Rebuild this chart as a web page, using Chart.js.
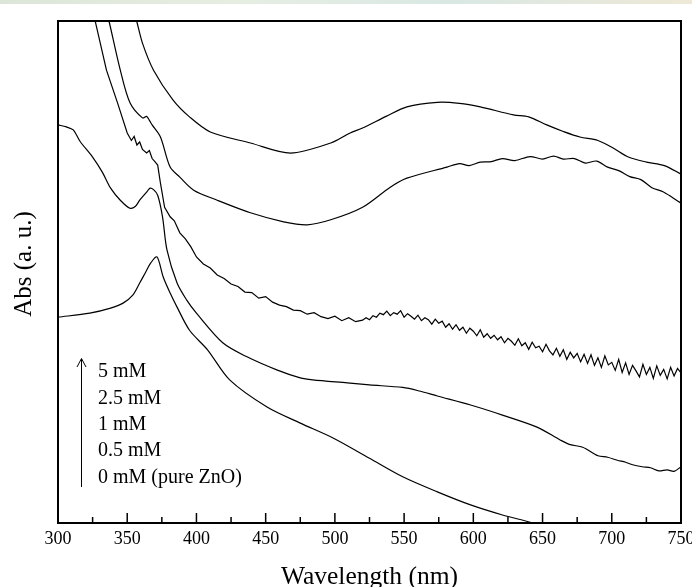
<!DOCTYPE html>
<html>
<head>
<meta charset="utf-8">
<title>Abs vs Wavelength</title>
<script src="https://cdn.jsdelivr.net/npm/chart.js@4.4.1/dist/chart.umd.min.js"></script>
<style>
    html, body { margin: 0; padding: 0; background: #fff; }
    #wrap { position: relative; width: 692px; height: 587px; }
    #strip {
        position: absolute; left: 0; top: 0; width: 692px; height: 4px;
        background: linear-gradient(90deg, #dce6d8, #e6eee2 35%, #d9e8e4 65%, #eee8d6);
    }
</style>
</head>
<body>
<div id="wrap">
    <canvas id="spectra"></canvas>
    <div id="strip"></div>
</div>
<script>
// legend text, top (highest concentration) to bottom
const concLabels = ['5 mM', '2.5 mM', '1 mM', '0.5 mM', '0 mM (pure ZnO)'];

// x axis
const xMin = 300;
const xMax = 750;
const xStep = 50;

// 5 mM
const wl5 = [354, 357, 361, 369, 383, 395, 410, 439, 468, 497, 511, 520, 537, 552, 574, 590, 605, 629, 640, 653, 665, 677, 690, 701, 712, 725, 738, 750];
const abs5 = [103, 99.8, 95.6, 90.2, 84.3, 80.9, 77.9, 75.7, 73.7, 75.7, 77.7, 78.7, 81.0, 82.9, 83.8, 83.6, 82.9, 81.3, 80.9, 79.3, 78.0, 76.9, 76.2, 74.7, 72.9, 71.9, 71.2, 69.5];

// 2.5 mM
const wl25 = [334, 337, 345, 352, 361, 364, 366, 368, 374, 381, 388, 398, 415, 439, 463, 480, 497, 520, 540, 552, 581, 590, 597, 605, 613, 621, 630, 641, 650, 658, 665, 673, 681, 689, 697, 705, 713, 721, 729, 737, 744, 750];
const abs25 = [103, 99.8, 90.2, 83.7, 80.7, 81.0, 80.2, 79.3, 76.9, 70.9, 68.9, 66.3, 64.3, 61.8, 60.0, 59.4, 60.4, 62.9, 66.9, 68.7, 70.9, 71.6, 71.2, 71.9, 72.0, 72.6, 72.2, 73.0, 72.5, 73.1, 72.5, 72.6, 71.7, 72.1, 70.9, 70.2, 69.0, 68.4, 66.8, 66.0, 64.8, 63.7];

// 1 mM (noisy trace)
const wl1 = [325, 327, 335, 343, 350, 353, 355, 357, 359, 361, 364, 366, 368, 370, 372, 374, 377, 381, 384, 388, 392, 396, 400,
    405, 410, 415, 420, 425, 430, 435, 440, 445, 450, 455, 460, 465, 470, 475, 480, 485, 490, 495, 500, 505, 510, 515, 520,
    522.5, 525, 527.5, 530, 532.5, 535, 537.5, 540, 542.5, 545, 547.5, 550, 552.5, 555, 557.5, 560, 562.5, 565, 567.5, 570,
    572.5, 575, 577.5, 580, 582.5, 585, 587.5, 590, 592.5, 595, 597.5, 600, 602.5, 605, 607.5, 610, 612.5, 615, 617.5, 620,
    622.5, 625, 627.5, 630, 632.5, 635, 637.5, 640, 642.5, 645, 647.5, 650, 652.5, 655, 657.5, 660, 662.5, 665, 667.5, 670,
    672.5, 675, 677.5, 680, 682.5, 685, 687.5, 690, 692.5, 695, 697.5, 700, 702.5, 705, 707.5, 710, 712.5, 715, 717.5, 720,
    722.5, 725, 727.5, 730, 732.5, 735, 737.5, 740, 742.5, 745, 747.5, 750];
const abs1 = [103, 99.8, 90.2, 83.7, 77.7, 76.2, 77.0, 75.3, 75.9, 74.4, 73.7, 74.2, 72.6, 72.0, 71.3, 67.7, 62.9, 61.0, 60.2, 57.8, 56.6, 55.0, 53.0,
    51.6, 50.8, 49.4, 48.7, 47.6, 47.1, 46.0, 45.9, 44.8, 45.1, 44.0, 43.4, 43.1, 42.4, 42.3, 41.6, 41.9, 41.1, 40.7, 41.2, 40.3, 40.9, 40.1, 40.4,
    40.9, 40.5, 41.3, 41.0, 41.8, 41.5, 42.2, 41.3, 41.9, 41.6, 42.3, 41.0, 41.7, 41.2, 40.6, 41.4, 40.3, 40.9, 40.5, 39.6,
    40.6, 39.8, 40.2, 39.0, 39.7, 38.6, 39.5, 38.4, 39.0, 37.8, 38.8, 38.2, 37.3, 38.5, 37.0, 37.7, 36.8, 37.4, 36.5, 37.1,
    35.9, 36.8, 36.2, 35.4, 36.7, 35.3, 35.9, 34.6, 36.0, 34.9, 35.2, 34.1, 35.6, 34.3, 33.5, 34.8, 33.2, 34.5, 32.6, 34.0,
    32.9, 33.8, 32.1, 33.6, 31.8, 33.5, 31.4, 32.9, 31.0, 33.3, 31.5, 32.0, 30.4, 32.6, 30.0, 31.9, 29.6, 31.4, 30.3, 29.1,
    31.6, 29.6, 31.0, 28.8, 31.3, 29.4, 30.6, 28.7, 31.0, 29.3, 30.8, 29.9];

// 0.5 mM
const wl05 = [300, 306, 311, 316, 325, 332, 338, 345, 352, 356, 359, 364, 366.5, 369, 372, 375.5, 378.7, 386, 393, 400, 419, 436.5, 458, 475, 484, 509, 525, 549, 561, 574, 598, 621, 646, 663, 670, 679, 690, 697, 704, 710, 715, 722, 728, 734, 740, 745, 750];
const abs05 = [79.3, 78.9, 78.3, 76.0, 72.9, 69.9, 66.7, 64.3, 62.7, 63.1, 64.3, 65.9, 66.7, 66.4, 65.3, 61.0, 54.4, 47.8, 44.4, 41.8, 35.9, 33.1, 30.5, 28.9, 28.5, 27.9, 27.5, 27.0, 26.3, 25.3, 23.5, 21.5, 19.1, 16.5, 15.6, 15.1, 13.4, 13.1, 12.5, 12.1, 11.6, 11.2, 11.0, 10.4, 10.6, 10.3, 11.2];

// 0 mM (pure ZnO)
const wl0 = [300, 323, 338, 347, 354, 359, 363, 367, 371.5, 376, 381, 386, 395, 408, 424, 451, 475, 499, 525, 549, 574, 598, 621, 643, 655];
const abs0 = [41.0, 41.8, 42.8, 43.8, 45.4, 47.8, 49.8, 51.8, 53.0, 49.0, 45.8, 43.0, 38.4, 34.5, 28.5, 23.1, 19.9, 16.9, 12.9, 9.2, 6.2, 3.6, 1.6, 0, -1.2];

const seriesX = [wl5, wl25, wl1, wl05, wl0];
const seriesY = [abs5, abs25, abs1, abs05, abs0];

const serif = "'Liberation Serif', 'Times New Roman', serif";

// box round the plot + inward ticks on the wavelength axis
const frameTicks = {
    id: 'frameTicks',
    afterDraw(chart) {
        const { ctx, chartArea, scales } = chart;
        const x = scales.x;
        ctx.save();
        ctx.strokeStyle = '#000';
        ctx.lineWidth = 1.5;
        for (let v = xMin; v <= xMax; v += xStep / 2) {
            const px = x.getPixelForValue(v);
            const len = (v - xMin) % xStep === 0 ? 10 : 6;
            ctx.beginPath();
            ctx.moveTo(px, chartArea.bottom);
            ctx.lineTo(px, chartArea.bottom - len);
            ctx.stroke();
        }
        ctx.lineWidth = 2;
        ctx.strokeRect(chartArea.left, chartArea.top, chartArea.right - chartArea.left, chartArea.bottom - chartArea.top);
        ctx.restore();
    }
};

// y title, arrow + concentration list in the lower left corner
const concNote = {
    id: 'concNote',
    afterDraw(chart) {
        const { ctx, chartArea } = chart;
        const ax = chartArea.left + 23.5;
        const tx = chartArea.left + 40;
        const y0 = chartArea.bottom - 151;
        const gap = 26.4;
        ctx.save();
        ctx.fillStyle = '#000';
        ctx.font = '25px ' + serif;
        ctx.textAlign = 'center';
        ctx.textBaseline = 'middle';
        ctx.translate(24.5, (chartArea.top + chartArea.bottom) / 2 - 8);
        ctx.rotate(-Math.PI / 2);
        ctx.fillText('Abs (a. u.)', 0, 0);
        ctx.restore();

        ctx.save();
        ctx.strokeStyle = '#000';
        ctx.lineWidth = 1;
        ctx.beginPath();
        ctx.moveTo(ax, chartArea.bottom - 36);
        ctx.lineTo(ax, y0 - 13);
        ctx.stroke();
        ctx.beginPath();
        ctx.moveTo(ax - 4.5, y0 - 5);
        ctx.lineTo(ax, y0 - 13.5);
        ctx.lineTo(ax + 4.5, y0 - 5);
        ctx.stroke();
        ctx.fillStyle = '#000';
        ctx.font = '20px ' + serif;
        ctx.textAlign = 'left';
        ctx.textBaseline = 'middle';
        concLabels.forEach((t, i) => ctx.fillText(t, tx, y0 + i * gap));
        ctx.restore();
    }
};

const datasets = concLabels.map((label, i) => ({
    label: label,
    data: seriesX[i].map((w, j) => ({ x: w, y: seriesY[i][j] })),
    borderColor: '#000',
    borderWidth: 1.2,
    pointRadius: 0,
    fill: false,
    tension: i === 2 ? 0 : 0.3
}));

new Chart(document.getElementById('spectra'), {
    type: 'line',
    data: { datasets: datasets },
    plugins: [frameTicks, concNote],
    options: {
        responsive: true,
        maintainAspectRatio: false,
        animation: false,
        layout: { padding: { top: 21, right: 11, left: 0, bottom: 0 } },
        plugins: {
            legend: { display: false },
            tooltip: { enabled: false }
        },
        scales: {
            x: {
                type: 'linear',
                min: xMin,
                max: xMax,
                grid: { display: false, drawTicks: false },
                border: { display: false },
                ticks: {
                    stepSize: xStep,
                    color: '#000',
                    padding: 5,
                    maxRotation: 0,
                    font: { family: serif, size: 18 }
                },
                title: {
                    display: true,
                    text: 'Wavelength (nm)',
                    color: '#000',
                    padding: { top: 0, bottom: 0 },
                    font: { family: serif, size: 25.5, lineHeight: 0.74 }
                },
                afterFit(scale) {
                    scale.height = 64;
                    scale.paddingLeft = 0;
                    scale.paddingRight = 0;
                }
            },
            y: {
                type: 'linear',
                min: 0,
                max: 100,
                grid: { display: false },
                border: { display: false },
                ticks: { display: false },
                title: { display: false },
                afterFit(scale) {
                    scale.width = 58;
                }
            }
        }
    }
});
</script>
</body>
</html>
